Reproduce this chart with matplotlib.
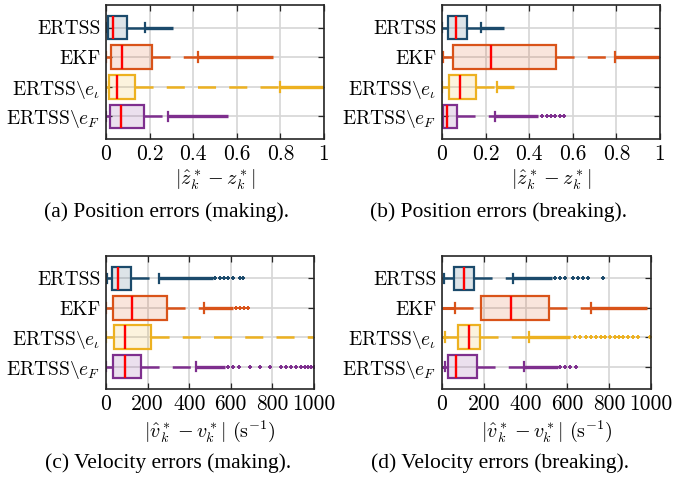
import matplotlib
matplotlib.use('Agg')
import matplotlib.pyplot as plt
from matplotlib.colors import to_rgba

plt.rcParams['font.family'] = ['cmr10']
plt.rcParams['mathtext.fontset'] = 'cm'
plt.rcParams['axes.formatter.use_mathtext'] = True
plt.rcParams['lines.scale_dashes'] = False

# categories (top to bottom)
labels = ['ERTSS', 'EKF', r'ERTSS$\backslash e_\iota$', r'ERTSS$\backslash e_F$']
colors = ['#1b4a6b', '#d95319', '#edb120', '#7e2f8e']

# (a) position errors, making
a_whislo = [0.002, 0.002, 0.002, 0.002]
a_q1 = [0.011, 0.023, 0.015, 0.018]
a_med = [0.031, 0.075, 0.052, 0.067]
a_q3 = [0.095, 0.209, 0.135, 0.174]
a_whishi = [0.179, 0.424, 0.798, 0.286]
a_low = [None, None, None, None]
a_dense = [[(0.179, 0.309)], [(0.424, 0.768)], [(0.798, 1.0)], [(0.286, 0.558)]]
a_sparse = [[], [], [], []]

# (b) position errors, breaking
b_whislo = [0.002, 0.003, 0.002, 0.001]
b_q1 = [0.028, 0.051, 0.031, 0.005]
b_med = [0.066, 0.227, 0.084, 0.023]
b_q3 = [0.116, 0.524, 0.158, 0.069]
b_whishi = [0.181, 0.793, 0.253, 0.245]
b_low = [None, None, None, None]
b_dense = [[(0.181, 0.283)], [(0.793, 1.0)], [(0.253, 0.329)], [(0.245, 0.44)]]
b_sparse = [[], [], [], [0.46, 0.48, 0.50, 0.52, 0.54, 0.56]]

# (c) velocity errors, making
c_whislo = [3, 2, 2, 2]
c_q1 = [27, 35, 40, 32]
c_med = [59, 125, 91, 91]
c_q3 = [120, 294, 214, 170]
c_whishi = [256, 470, 1100, 435]
c_low = [None, None, None, None]
c_dense = [[(256, 515)], [(470, 611)], [], [(435, 571)]]
c_sparse = [[523, 547, 566, 587, 611, 643, 659],
            [627, 643, 662, 683],
            [],
            [587, 611, 640, 691, 739, 787, 843, 867, 891, 915, 939, 955, 971, 987, 1000]]

# (d) velocity errors, breaking
d_whislo = [8, 64, 16, 16]
d_q1 = [56, 185, 76, 29]
d_med = [104, 330, 127, 67]
d_q3 = [153, 513, 180, 166]
d_whishi = [339, 712, 414, 393]
d_low = [(0, 8), (0, 64), (0, 16), (0, 16)]
d_dense = [[(339, 525)], [(712, 979)], [(414, 613)], [(393, 557)]]
d_sparse = [[541, 565, 589, 629, 653, 677, 700, 772],
            [],
            [637, 661, 689, 712, 737, 759, 780, 804, 828, 849, 868, 892, 915, 939, 995],
            [565, 589, 613, 642]]

pos_ticks = [0, 0.2, 0.4, 0.6, 0.8, 1]
pos_ticklabels = ['0', '0.2', '0.4', '0.6', '0.8', '1']
vel_ticks = [0, 200, 400, 600, 800, 1000]
vel_ticklabels = ['0', '200', '400', '600', '800', '1000']

W, H = 673, 478
fig = plt.figure(figsize=(W / 100, H / 100), dpi=100)


def make_axes(left, top, right, bottom):
    return fig.add_axes([left / W, 1 - bottom / H, (right - left) / W, (bottom - top) / H])


def draw_panel(ax, whislo, q1, med, q3, whishi, low, dense, sparse,
               xmax, ticks, ticklabels, xlabel):
    positions = [1, 2, 3, 4]
    stats = []
    for i in range(4):
        stats.append({'whislo': whislo[i], 'q1': q1[i], 'med': med[i],
                      'q3': q3[i], 'whishi': whishi[i], 'fliers': []})
    res = ax.bxp(stats, positions=positions, orientation='horizontal',
                 widths=0.8, capwidths=0.33, patch_artist=True,
                 showfliers=False, manage_ticks=False)
    for i, c in enumerate(colors):
        box = res['boxes'][i]
        box.set_facecolor(to_rgba(c, 0.15))
        box.set_edgecolor(c)
        box.set_linewidth(1.6)
        res['medians'][i].set_color('#ff0000')
        res['medians'][i].set_linewidth(1.7)
        for w in res['whiskers'][2 * i:2 * i + 2]:
            w.set_color(c)
            w.set_linewidth(1.8)
            w.set_linestyle((0, (13, 9.5)))
        # low whisker dashes start at the far end
        lw_line = res['whiskers'][2 * i]
        lw_line.set_xdata(list(lw_line.get_xdata())[::-1])
        for cap in res['caps'][2 * i:2 * i + 2]:
            cap.set_color(c)
            cap.set_linewidth(1.6)
        p = positions[i]
        if low[i] is not None:
            ax.plot(low[i], [p, p], color=c, lw=2.2, solid_capstyle='butt')
        for s, e in dense[i]:
            ax.plot([s, e], [p, p], color=c, lw=2.4, solid_capstyle='butt')
        if sparse[i]:
            ax.plot(sparse[i], [p] * len(sparse[i]), ls='none', marker='+',
                    ms=3, mew=1.4, color=c)
    ax.set_xlim(0, xmax)
    ax.set_ylim(4.76, 0.24)
    ax.set_xticks(ticks)
    ax.set_xticklabels(ticklabels)
    ax.set_yticks(positions)
    ax.set_yticklabels(labels)
    ax.grid(True, color='#d6d6d6', lw=1.2)
    ax.set_axisbelow(True)
    ax.tick_params(direction='in', top=True, right=True, length=4, width=0.9,
                   color='#262626', pad=4)
    ax.tick_params(axis='x', labelsize=15.5)
    ax.tick_params(axis='y', labelsize=14)
    for sp in ax.spines.values():
        sp.set_color('#262626')
        sp.set_linewidth(1.2)
    ax.set_xlabel(xlabel, fontsize=14.5, labelpad=3)


ax_a = make_axes(106, 5, 324, 139)
ax_b = make_axes(442, 5, 660, 139)
ax_c = make_axes(106, 256, 314, 389)
ax_d = make_axes(442, 256, 651, 389)

pos_label = r'$|\hat{z}^*_k - z^*_k|$'
vel_label = r'$|\hat{v}^*_k - v^*_k|\ (\mathrm{s}^{-1})$'

draw_panel(ax_a, a_whislo, a_q1, a_med, a_q3, a_whishi, a_low, a_dense, a_sparse,
           1, pos_ticks, pos_ticklabels, pos_label)
draw_panel(ax_b, b_whislo, b_q1, b_med, b_q3, b_whishi, b_low, b_dense, b_sparse,
           1, pos_ticks, pos_ticklabels, pos_label)
draw_panel(ax_c, c_whislo, c_q1, c_med, c_q3, c_whishi, c_low, c_dense, c_sparse,
           1000, vel_ticks, vel_ticklabels, vel_label)
draw_panel(ax_d, d_whislo, d_q1, d_med, d_q3, d_whishi, d_low, d_dense, d_sparse,
           1000, vel_ticks, vel_ticklabels, vel_label)

cap_font = dict(family='Liberation Serif', fontsize=15.5, ha='center', va='center')
fig.text(167 / W, 1 - 212 / H, '(a) Position errors (making).', **cap_font)
fig.text(498 / W, 1 - 212 / H, '(b) Position errors (breaking).', **cap_font)
fig.text(168 / W, 1 - 463 / H, '(c) Velocity errors (making).', **cap_font)
fig.text(500 / W, 1 - 463 / H, '(d) Velocity errors (breaking).', **cap_font)

fig.savefig('out.png', dpi=100)
